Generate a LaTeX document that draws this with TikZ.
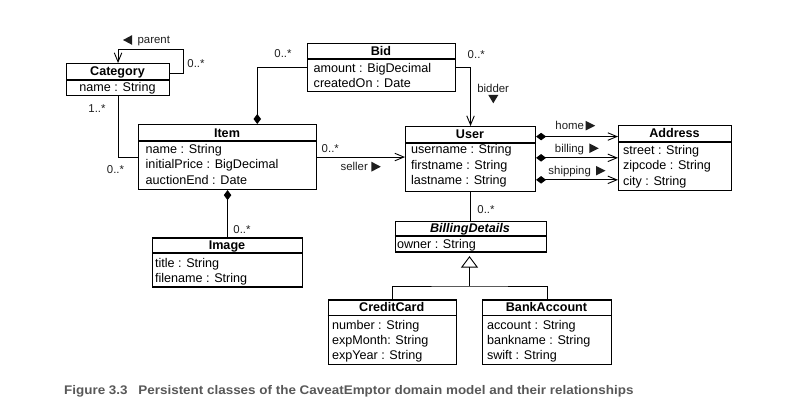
\documentclass[tikz,border=0pt]{standalone}
\usepackage{fontspec}
\setmainfont{Liberation Sans}
\usetikzlibrary{arrows.meta,calc}
\definecolor{capgray}{RGB}{88,88,88}
\definecolor{lblcol}{RGB}{30,30,30}
\newcommand\fst{\rule{0pt}{10pt}}
\begin{document}
\begin{tikzpicture}[x=1pt,y=-1pt,
  box/.style={draw, line width=1.1pt, inner sep=0pt, anchor=north west},
  ttl/.style={font=\bfseries\fontsize{12.6}{15}\selectfont, inner sep=0pt, anchor=base},
  attr/.style={font=\fontsize{12.6}{15.3}\selectfont, inner sep=0pt, align=left, anchor=north west},
  lbl/.style={font=\fontsize{11.4}{13}\selectfont, text=lblcol, inner sep=0pt, anchor=base},
  conn/.style={line width=0.9pt},
  nav/.style={conn, -{Straight Barb[length=9pt,width=7.5pt]}},
  comp/.style={conn, {Diamond[length=10pt,width=7.5pt]}-},
  assoc/.style={conn, {Diamond[length=10pt,width=7.5pt]}-{Straight Barb[length=9pt,width=7.5pt]}},
  gen/.style={conn, -{Triangle[open,length=11.5pt,width=17pt]}},
  caption/.style={font=\bfseries\fontsize{12.5}{14}\selectfont, text=capgray, inner sep=0pt, anchor=base west}
]
\useasboundingbox (0,0) rectangle (806,411);

% ---------- Category ----------
\node[box, minimum width=103pt, minimum height=32pt] (cat) at (66,63) {};
\draw[line width=1.1pt] (66,80) -- (169,80);
\node[ttl] (catT) at (117.5,75.5) {Category};
\node[attr, anchor=north] (catA) at (117.5,81.2) {\fst name : String};

% ---------- Bid ----------
\node[box, minimum width=148pt, minimum height=48pt] (bid) at (307,43) {};
\draw[line width=1.1pt] (307,59) -- (455,59);
\node[ttl] (bidT) at (381,55.5) {Bid};
\node[attr] (bidA) at (313.5,62.2) {\fst amount : BigDecimal\\createdOn : Date};

% ---------- Item ----------
\node[box, minimum width=178pt, minimum height=65pt] (item) at (138,124) {};
\draw[line width=1.1pt] (138,141) -- (316,141);
\node[ttl] (itemT) at (227,137.5) {Item};
\node[attr] (itemA) at (145.5,143.5) {\fst name : String\\initialPrice : BigDecimal\\auctionEnd : Date};

% ---------- User ----------
\node[box, minimum width=130pt, minimum height=65pt] (user) at (405,126) {};
\draw[line width=1.1pt] (405,143) -- (535,143);
\node[ttl] (userT) at (470,139) {User};
\node[attr] (userA) at (410.8,143.8) {\fst username : String\\firstname : String\\lastname : String};

% ---------- Address ----------
\node[box, minimum width=113pt, minimum height=65pt] (addr) at (618,125) {};
\draw[line width=1.1pt] (618,142) -- (731,142);
\node[ttl] (addrT) at (674.5,138) {Address};
\node[attr] (addrA) at (622.8,144.5) {\fst street : String\\zipcode : String\\city : String};

% ---------- Image ----------
\node[box, minimum width=150pt, minimum height=49pt] (img) at (152,237.5) {};
\draw[line width=1.1pt] (152,253) -- (302,253);
\node[ttl] (imgT) at (227,249.5) {Image};
\node[attr] (imgA) at (154.8,257.2) {\fst title : String\\filename : String};

% ---------- BillingDetails ----------
\node[box, minimum width=151.5pt, minimum height=30.5pt] (bd) at (394.5,221) {};
\draw[line width=1.1pt] (394.5,236) -- (546,236);
\node[ttl, font=\bfseries\itshape\fontsize{12.6}{15}\selectfont] (bdT) at (470,233) {BillingDetails};
\node[attr] (bdA) at (396.8,238) {\fst owner : String};

% ---------- CreditCard ----------
\node[box, minimum width=128.5pt, minimum height=64.5pt] (cc) at (327.5,299.5) {};
\draw[line width=1.1pt] (327.5,315.5) -- (456,315.5);
\node[ttl] (ccT) at (391.75,311.5) {CreditCard};
\node[attr] (ccA) at (331.8,319) {\fst number : String\\expMonth: String\\expYear : String};

% ---------- BankAccount ----------
\node[box, minimum width=129pt, minimum height=64.5pt] (ba) at (482,299.5) {};
\draw[line width=1.1pt] (482,315.5) -- (611,315.5);
\node[ttl] (baT) at (546.5,311.5) {BankAccount};
\node[attr] (baA) at (486.8,319) {\fst account : String\\bankname : String\\swift : String};

% ---------- connectors ----------
\coordinate (loopA) at (183.3,49.3);
\draw[nav] ($(cat.east)+(0,-6.3)$) -| (loopA) -| (cat.north);
\draw[conn] (cat.south) |- (item.west);
\draw[comp] ($(item.north)+(29.7,0)$) |- (bid.west);
\draw[nav] (bid.east) -| (user.north);
\draw[nav] (item.east) -- (item.east -| user.west);
\draw[assoc] ($(user.east)+(0,-22.5)$) -- ($(user.east -| addr.west)+(0,-22.5)$);
\draw[assoc] ($(user.east)+(0,-1.2)$) -- ($(user.east -| addr.west)+(0,-1.2)$);
\draw[assoc] ($(user.east)+(0,20.8)$) -- ($(user.east -| addr.west)+(0,20.8)$);
\draw[comp] (item.south) -- (img.north);
\draw[conn] (user.south) -- (user.south |- bd.north);
\coordinate (gj) at (469.5,286);
\draw[conn] (cc.north) |- (gj) -| (ba.north);
\draw[gen, shorten >=3.5pt] (gj) -- (gj |- bd.south);

% ---------- labels ----------
\node[lbl] (l1) at (196,67.4) {0..*};
\node[lbl] (lparent) at (153.8,43.4) {parent};
\fill[lblcol] (123,40) -- (132,35.2) -- (132,44.8) -- cycle;
\node[lbl] (l2) at (97,112.4) {1..*};
\node[lbl] (l3) at (115.5,173.1) {0..*};
\node[lbl] (l4) at (283,57.4) {0..*};
\node[lbl] (l5) at (330.3,152.4) {0..*};
\node[lbl] (lseller) at (354.2,170.1) {seller};
\fill[lblcol] (371.3,161.7) -- (380.8,166.7) -- (371.3,171.7) -- cycle;
\node[lbl] (l6) at (476.3,58.1) {0..*};
\node[lbl] (lbidder) at (493.2,92.4) {bidder};
\fill[lblcol] (488.3,95) -- (498.3,95) -- (493.3,103.3) -- cycle;
\node[lbl] (lhome) at (569.7,129.8) {home};
\fill[lblcol] (585.7,120.9) -- (595.2,125.7) -- (585.7,130.5) -- cycle;
\node[lbl] (lbilling) at (569.5,152.4) {billing};
\fill[lblcol] (589.3,143.5) -- (598.8,148.3) -- (589.3,153.1) -- cycle;
\node[lbl] (lshipping) at (569.7,174.8) {shipping};
\fill[lblcol] (596,165.9) -- (605.5,170.7) -- (596,175.5) -- cycle;
\node[lbl] (l7) at (242,233.4) {0..*};
\node[lbl] (l8) at (486,213.6) {0..*};

% ---------- caption ----------
\node[caption] (cap) at (64,394.3) {\scalebox{1.075}[1]{Figure 3.3\hspace{10pt}Persistent classes of the CaveatEmptor domain model and their relationships}};
\end{tikzpicture}
\end{document}
